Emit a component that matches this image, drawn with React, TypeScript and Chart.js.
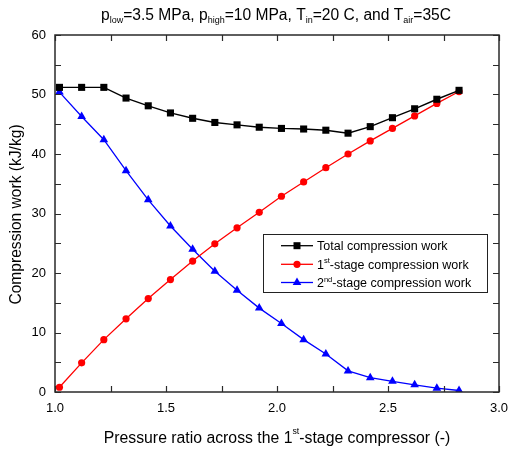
import React, { useEffect, useRef } from "react";
import { Chart, registerables } from "chart.js";

Chart.register(...registerables);

const FONT = '"Liberation Sans", Arial, Helvetica, sans-serif';

// Data
const pressureRatio = [1.02, 1.12, 1.22, 1.32, 1.42, 1.52, 1.62, 1.72, 1.82, 1.92, 2.02, 2.12, 2.22, 2.32, 2.42, 2.52, 2.62, 2.72, 2.82];
const totalWork = [51.2, 51.2, 51.2, 49.4, 48.1, 46.9, 46.0, 45.3, 44.9, 44.5, 44.3, 44.2, 44.0, 43.5, 44.6, 46.1, 47.6, 49.2, 50.7];
const firstStageWork = [0.8, 4.9, 8.8, 12.3, 15.7, 18.9, 22.0, 24.9, 27.6, 30.2, 32.9, 35.3, 37.7, 40.0, 42.2, 44.3, 46.4, 48.5, 50.5];
const secondStageWork = [50.4, 46.3, 42.4, 37.2, 32.3, 27.9, 24.0, 20.3, 17.1, 14.1, 11.5, 8.8, 6.4, 3.55, 2.4, 1.8, 1.2, 0.65, 0.25];

const xTicks = [1.0, 1.5, 2.0, 2.5, 3.0];
const yTicks = [0, 10, 20, 30, 40, 50, 60];

type Seg = { t: string; s?: "sub" | "sup" };

const titleSegs: Seg[] = [
  { t: "p" }, { t: "low", s: "sub" }, { t: "=3.5 MPa, p" }, { t: "high", s: "sub" },
  { t: "=10 MPa, T" }, { t: "in", s: "sub" }, { t: "=20 C, and T" }, { t: "air", s: "sub" }, { t: "=35C" },
];
const xTitleSegs: Seg[] = [
  { t: "Pressure ratio across the 1" }, { t: "st", s: "sup" }, { t: "-stage compressor (-)" },
];
const yTitle = "Compression work (kJ/kg)";

const legendItems: { segs: Seg[]; color: string; style: string }[] = [
  { segs: [{ t: "Total compression work" }], color: "#000000", style: "rect" },
  { segs: [{ t: "1" }, { t: "st", s: "sup" }, { t: "-stage compression work" }], color: "#ff0000", style: "circle" },
  { segs: [{ t: "2" }, { t: "nd", s: "sup" }, { t: "-stage compression work" }], color: "#0000ff", style: "triangle" },
];

function drawRich(
  ctx: CanvasRenderingContext2D, segs: Seg[], x: number, y: number,
  size: number, small: number, subOff: number, supOff: number, align: "left" | "center"
) {
  ctx.textAlign = "left";
  ctx.textBaseline = "alphabetic";
  let w = 0;
  for (const s of segs) {
    ctx.font = `${s.s ? small : size}px ${FONT}`;
    w += ctx.measureText(s.t).width;
  }
  let cx = align === "center" ? x - w / 2 : x;
  for (const s of segs) {
    ctx.font = `${s.s ? small : size}px ${FONT}`;
    const dy = s.s === "sub" ? subOff : s.s === "sup" ? supOff : 0;
    ctx.fillText(s.t, cx, y + dy);
    cx += ctx.measureText(s.t).width;
  }
}

function drawMarker(ctx: CanvasRenderingContext2D, style: string, x: number, y: number, color: string) {
  ctx.fillStyle = color;
  ctx.beginPath();
  if (style === "rect") {
    ctx.rect(x - 3.5, y - 3.5, 7, 7);
  } else if (style === "circle") {
    ctx.arc(x, y, 3.6, 0, Math.PI * 2);
  } else {
    const r = 5;
    let a = 0;
    ctx.moveTo(x + Math.sin(a) * r, y - Math.cos(a) * r);
    a += (2 * Math.PI) / 3;
    ctx.lineTo(x + Math.sin(a) * r, y - Math.cos(a) * r);
    a += (2 * Math.PI) / 3;
    ctx.lineTo(x + Math.sin(a) * r, y - Math.cos(a) * r);
    ctx.closePath();
  }
  ctx.fill();
}

const decorPlugin = {
  id: "decor",
  afterDraw(chart: any) {
    const ctx: CanvasRenderingContext2D = chart.ctx;
    const { left, right, top, bottom } = chart.chartArea;
    const xs = chart.scales.x;
    const ys = chart.scales.y;
    ctx.save();
    // frame
    ctx.strokeStyle = "#2a2a2a";
    ctx.lineWidth = 1.5;
    ctx.strokeRect(left, top, right - left, bottom - top);
    // inward ticks (major + minor), mirrored on all sides
    ctx.lineWidth = 1.2;
    ctx.beginPath();
    const tl = 6;
    for (let i = 0; i < xTicks.length; i++) {
      const vals = [xTicks[i]];
      if (i < xTicks.length - 1) vals.push((xTicks[i] + xTicks[i + 1]) / 2);
      for (const v of vals) {
        const px = Math.round(xs.getPixelForValue(v)) + 0.5;
        ctx.moveTo(px, bottom);
        ctx.lineTo(px, bottom - tl);
        ctx.moveTo(px, top);
        ctx.lineTo(px, top + tl);
      }
    }
    for (let i = 0; i < yTicks.length; i++) {
      const vals = [yTicks[i]];
      if (i < yTicks.length - 1) vals.push((yTicks[i] + yTicks[i + 1]) / 2);
      for (const v of vals) {
        const py = Math.round(ys.getPixelForValue(v)) + 0.5;
        ctx.moveTo(left, py);
        ctx.lineTo(left + tl, py);
        ctx.moveTo(right, py);
        ctx.lineTo(right - tl, py);
      }
    }
    ctx.stroke();

    ctx.fillStyle = "#000";
    // title
    drawRich(ctx, titleSegs, 276, 19.5, 15.6, 9, 3, -6, "center");
    // x title
    drawRich(ctx, xTitleSegs, 277, 443, 15.8, 8.8, 3, -9, "center");
    // y title
    ctx.save();
    ctx.translate(20.5, 214.5);
    ctx.rotate(-Math.PI / 2);
    ctx.font = `15.6px ${FONT}`;
    ctx.textAlign = "center";
    ctx.textBaseline = "alphabetic";
    ctx.fillText(yTitle, 0, 0);
    ctx.restore();

    // legend
    const bx = 263, by = 234, bw = 224, bh = 58;
    ctx.fillStyle = "#ffffff";
    ctx.fillRect(bx, by, bw, bh);
    ctx.strokeStyle = "#222";
    ctx.lineWidth = 1;
    ctx.strokeRect(bx + 0.5, by + 0.5, bw, bh);
    const rowsY = [245.7, 264.3, 282.5];
    legendItems.forEach((it, i) => {
      const y = rowsY[i];
      ctx.strokeStyle = it.color;
      ctx.lineWidth = 1.3;
      ctx.beginPath();
      ctx.moveTo(281, y);
      ctx.lineTo(313, y);
      ctx.stroke();
      drawMarker(ctx, it.style, 297, y, it.color);
      ctx.fillStyle = "#000";
      drawRich(ctx, it.segs, 317, y + 4.5, 12.5, 7.5, 3, -5.5, "left");
    });
    ctx.restore();
  },
};

export default function App() {
  const ref = useRef<HTMLCanvasElement | null>(null);
  useEffect(() => {
    if (!ref.current) return;
    const mk = (ys: number[]) => pressureRatio.map((x, i) => ({ x, y: ys[i] }));
    const chart = new Chart(ref.current, {
      type: "line",
      data: {
        datasets: [
          {
            label: "Total compression work",
            data: mk(totalWork),
            borderColor: "#000000",
            backgroundColor: "#000000",
            borderWidth: 1.4,
            pointStyle: "rect",
            pointRadius: 5,
            pointBorderWidth: 0,
          },
          {
            label: "1st-stage compression work",
            data: mk(firstStageWork),
            borderColor: "#ff0000",
            backgroundColor: "#ff0000",
            borderWidth: 1.3,
            pointStyle: "circle",
            pointRadius: 3.6,
            pointBorderWidth: 0,
          },
          {
            label: "2nd-stage compression work",
            data: mk(secondStageWork),
            borderColor: "#0000ff",
            backgroundColor: "#0000ff",
            borderWidth: 1.3,
            pointStyle: "triangle",
            pointRadius: 5,
            pointBorderWidth: 0,
          },
        ],
      },
      options: {
        animation: false,
        responsive: false,
        devicePixelRatio: 1,
        layout: { padding: { left: 0, right: 12, top: 35, bottom: 0 } },
        plugins: { legend: { display: false }, tooltip: { enabled: false }, title: { display: false } },
        scales: {
          x: {
            type: "linear",
            min: 1,
            max: 3,
            grid: { display: false, drawTicks: false },
            border: { display: false },
            ticks: {
              stepSize: 0.5,
              padding: 9,
              color: "#000",
              font: { family: FONT, size: 13 },
              callback: (v: any) => Number(v).toFixed(1),
              maxRotation: 0,
              autoSkip: false,
            },
            afterFit: (s: any) => { s.height = 58; s.paddingLeft = 0; s.paddingRight = 0; },
          },
          y: {
            type: "linear",
            min: 0,
            max: 60,
            grid: { display: false, drawTicks: false },
            border: { display: false },
            ticks: {
              stepSize: 10,
              padding: 9,
              color: "#000",
              font: { family: FONT, size: 13 },
            },
            afterFit: (s: any) => { s.width = 55; s.paddingTop = 0; s.paddingBottom = 0; },
          },
        },
      },
      plugins: [decorPlugin],
    });
    return () => chart.destroy();
  }, []);
  return (
    <div style={{ position: "absolute", left: 0, top: 0, width: 511, height: 450, background: "#fff" }}>
      <canvas ref={ref} width={511} height={450} style={{ display: "block" }} />
    </div>
  );
}
